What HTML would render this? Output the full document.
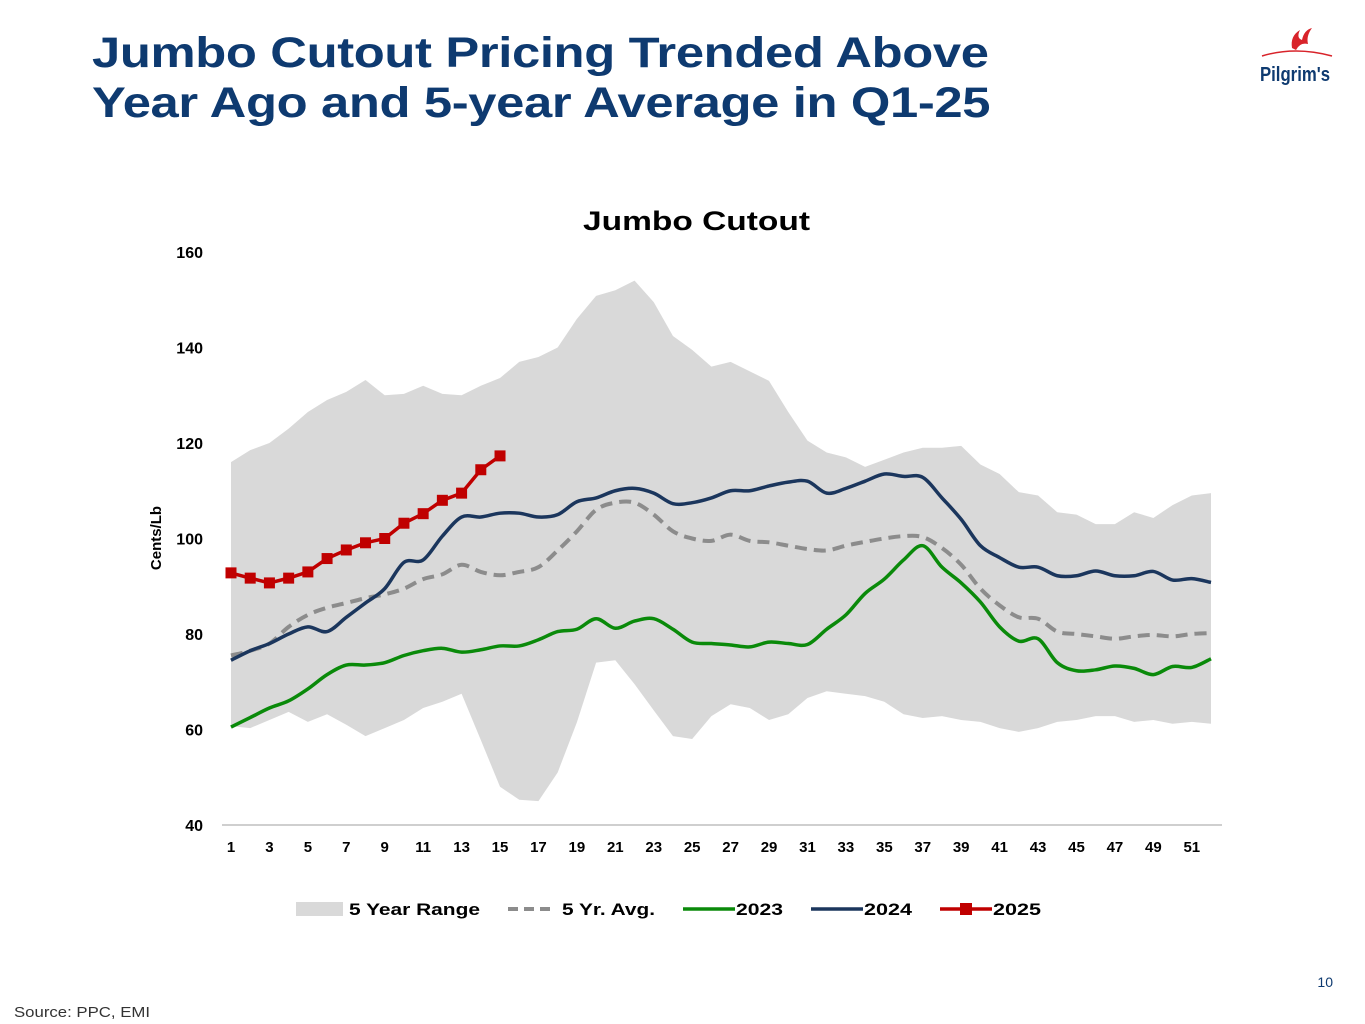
<!DOCTYPE html>
<html><head><meta charset="utf-8"><style>
body{margin:0;width:1365px;height:1024px;background:#fff;font-family:"Liberation Sans",sans-serif;overflow:hidden;position:relative}
.t{position:absolute;left:92px;top:28px;color:#0e3a70;font-weight:bold;font-size:43px;line-height:50px;letter-spacing:-0.3px;transform:scaleX(1.18);transform-origin:0 0;white-space:nowrap}
</style></head><body>
<div class="t">Jumbo Cutout Pricing Trended Above<br>Year Ago and 5-year Average in Q1-25</div>
<svg width="1365" height="1024" style="position:absolute;left:0;top:0">
<g>
<path d="M1292 48 Q1290 36 1300 30 Q1296 38 1302 40 Q1304 30 1312 28 Q1306 36 1308 44 Q1300 42 1296 50 Z" fill="#d8232a"/>
<path d="M1262 56 Q1295 46 1332 56" stroke="#d8232a" stroke-width="1.5" fill="none"/>
<text x="1260" y="81" font-size="20" font-weight="bold" fill="#0e3a70" textLength="70" lengthAdjust="spacingAndGlyphs">Pilgrim's</text>
</g>
<text x="583" y="230" font-size="27" font-weight="bold" fill="#000" textLength="227" lengthAdjust="spacingAndGlyphs">Jumbo Cutout</text>
<text transform="translate(161,538) rotate(-90)" text-anchor="middle" font-size="15" font-weight="bold">Cents/Lb</text>
<g id="yt"></g><g id="xt"></g>
<path id="range" fill="#d9d9d9"/>
<path id="avg" fill="none" stroke="#8c8c8c" stroke-width="4" stroke-dasharray="12 7"/>
<path id="l23" fill="none" stroke="#0a8a0a" stroke-width="3.5"/>
<path id="l24" fill="none" stroke="#1b365d" stroke-width="3.5"/>
<path id="l25" fill="none" stroke="#c00000" stroke-width="3.5"/>
<g id="m25"></g>
<line x1="222" y1="825" x2="1222" y2="825" stroke="#bfbfbf" stroke-width="1.5"/>
<g font-size="17" font-weight="bold">
<rect x="296" y="902" width="47" height="14" fill="#d9d9d9"/><text x="349" y="915" textLength="131" lengthAdjust="spacingAndGlyphs">5 Year Range</text>
<line x1="508" y1="909" x2="552" y2="909" stroke="#8c8c8c" stroke-width="4" stroke-dasharray="10 6"/><text x="562" y="915" textLength="93" lengthAdjust="spacingAndGlyphs">5 Yr. Avg.</text>
<line x1="683" y1="909" x2="735" y2="909" stroke="#0a8a0a" stroke-width="3.5"/><text x="736" y="915" textLength="47" lengthAdjust="spacingAndGlyphs">2023</text>
<line x1="811" y1="909" x2="863" y2="909" stroke="#1b365d" stroke-width="3.5"/><text x="864" y="915" textLength="48" lengthAdjust="spacingAndGlyphs">2024</text>
<line x1="940" y1="909" x2="992" y2="909" stroke="#c00000" stroke-width="3.5"/><rect x="960" y="903" width="12" height="12" fill="#c00000"/><text x="993" y="915" textLength="48" lengthAdjust="spacingAndGlyphs">2025</text>
</g>
<text x="1333" y="987" text-anchor="end" font-size="14" fill="#0e3a70">10</text>
<text x="14" y="1017" font-size="15" fill="#333" textLength="136" lengthAdjust="spacingAndGlyphs">Source: PPC, EMI</text>
</svg>
<script>
const yTicks=[40,60,80,100,120,140,160];
const rangeHigh=[116,118.5,120,123,126.5,129,130.7,133.2,130,130.3,132,130.3,130,132,133.6,137,138,140,146,150.8,152,154,149.5,142.4,139.5,136,137,135,133,126.5,120.5,118,117,115,116.5,118,119,119,119.4,115.5,113.5,109.7,109,105.5,105,103,103,105.5,104.3,107,109,109.5];
const rangeLow=[60.7,60.3,62,63.7,61.6,63.2,61,58.6,60.3,62,64.5,65.8,67.5,57.8,48,45.3,45,51,61.5,74,74.5,69.5,64,58.6,58,62.8,65.3,64.5,62,63.2,66.6,68,67.5,67,65.8,63.2,62.4,62.8,62,61.6,60.3,59.5,60.3,61.6,62,62.8,62.8,61.6,62,61.2,61.6,61.2];
const avg5=[75.5,76.5,78,81.5,84,85.5,86.5,87.5,88.3,89.5,91.5,92.5,94.5,93,92.3,93,94,97.5,101.5,106,107.5,107.5,105,101.5,100,99.5,100.8,99.5,99.2,98.5,97.8,97.5,98.5,99.3,100,100.5,100.3,98,94.5,89.5,86,83.5,83.2,80.5,80,79.5,79,79.5,79.8,79.5,80,80.2];
const y2023=[60.5,62.5,64.5,66,68.5,71.5,73.5,73.5,74,75.5,76.5,77,76.2,76.7,77.5,77.5,78.8,80.5,81,83.2,81.2,82.7,83.2,81,78.3,78,77.7,77.3,78.3,78,77.8,81,84,88.5,91.5,95.5,98.5,94,90.7,86.7,81.5,78.5,79,74,72.3,72.5,73.3,72.8,71.5,73.2,73,74.8];
const y2024=[74.5,76.5,78,80,81.5,80.5,83.5,86.5,89.5,95,95.5,100.5,104.5,104.5,105.3,105.3,104.5,105,107.7,108.5,110,110.5,109.5,107.3,107.5,108.5,110,110,111,111.8,112,109.5,110.5,112,113.5,113,112.8,108.5,104,98.5,96,94,94,92.2,92.2,93.2,92.2,92.2,93.1,91.3,91.6,90.8];
const y2025=[92.8,91.7,90.7,91.7,93,95.8,97.6,99.1,100,103.2,105.2,108,109.5,114.4,117.3];
const X=w=>231+(w-1)*(980/51);
const Y=v=>825-(v-40)*573/120;
const NS='http://www.w3.org/2000/svg';
const yt=document.getElementById('yt');
yTicks.forEach(v=>{const t=document.createElementNS(NS,'text');t.setAttribute('x',203);t.setAttribute('y',Y(v)+6);t.setAttribute('text-anchor','end');t.setAttribute('font-size','16');t.setAttribute('font-weight','bold');t.textContent=v;


yt.appendChild(t);});
const xt=document.getElementById('xt');
for(let w=1;w<=51;w+=2){const t=document.createElementNS(NS,'text');t.setAttribute('x',X(w));t.setAttribute('y',852);t.setAttribute('text-anchor','middle');t.setAttribute('font-size','15');t.setAttribute('font-weight','bold');t.textContent=w;


xt.appendChild(t);}
function smooth(vals){const p=vals.map((v,i)=>[X(i+1),Y(v)]);let d='M'+p[0][0]+','+p[0][1];
for(let i=0;i<p.length-1;i++){const p0=p[Math.max(i-1,0)],p1=p[i],p2=p[i+1],p3=p[Math.min(i+2,p.length-1)];
d+=` C${p1[0]+(p2[0]-p0[0])/6},${p1[1]+(p2[1]-p0[1])/6} ${p2[0]-(p3[0]-p1[0])/6},${p2[1]-(p3[1]-p1[1])/6} ${p2[0]},${p2[1]}`;}return d;}
let r='M'+rangeHigh.map((v,i)=>X(i+1)+','+Y(v)).join(' L');
r+=' L'+rangeLow.map((v,i)=>X(i+1)+','+Y(v)).reverse().join(' L')+'Z';
document.getElementById('range').setAttribute('d',r);
document.getElementById('avg').setAttribute('d',smooth(avg5));
document.getElementById('l23').setAttribute('d',smooth(y2023));
document.getElementById('l24').setAttribute('d',smooth(y2024));
document.getElementById('l25').setAttribute('d','M'+y2025.map((v,i)=>X(i+1)+','+Y(v)).join(' L'));
const m=document.getElementById('m25');
y2025.forEach((v,i)=>{const q=document.createElementNS(NS,'rect');q.setAttribute('x',X(i+1)-5.5);q.setAttribute('y',Y(v)-5.5);q.setAttribute('width',11);q.setAttribute('height',11);q.setAttribute('fill','#c00000');


m.appendChild(q);});
</script>
</body></html>
